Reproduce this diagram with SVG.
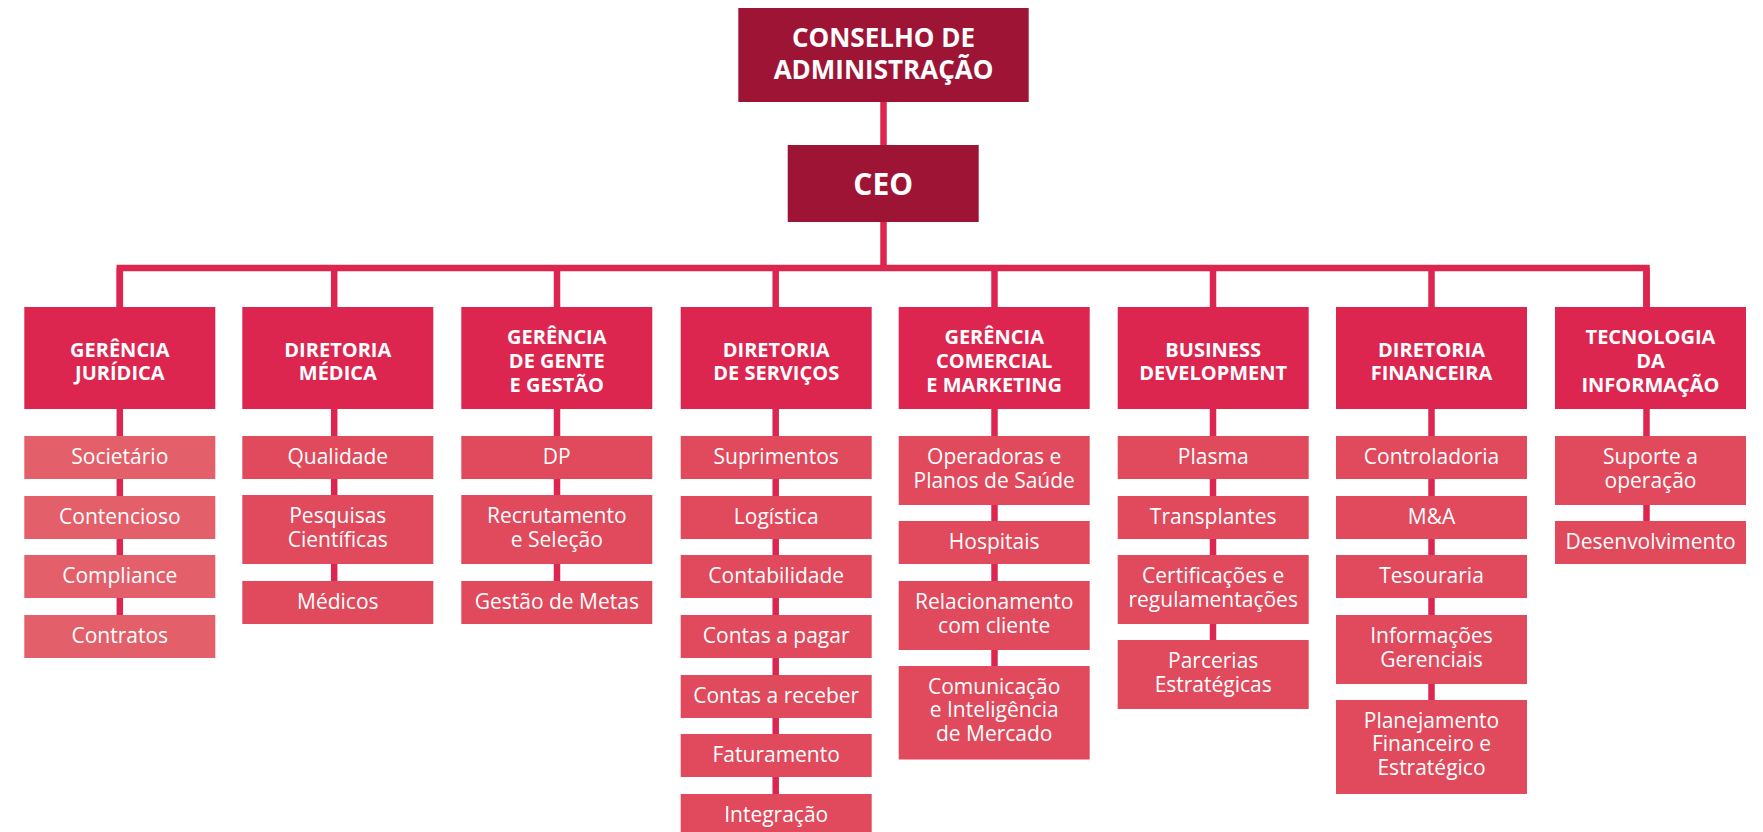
<svg xmlns="http://www.w3.org/2000/svg" width="1763" height="832" viewBox="0 0 1763 832">
<style>
.dk{fill:#9e1434}
.hd{fill:#dc2650}
.sb{fill:#e04a5c}
.sj{fill:#e3606b}
.t{font-family:"Open Sans","Liberation Sans",sans-serif;fill:#fff;text-anchor:middle}
.th{font-size:20px;font-weight:700}
.ts{font-size:21px;font-weight:400}
.tt{font-size:26px;font-weight:700}
.conn{fill:none;stroke:#dc2650;stroke-width:6.5;stroke-linejoin:miter}
</style>
<rect width="1763" height="832" fill="#fff"/>
<g id="connectors">
<path class="conn" d="M883.5,102 V268"/>
<path class="conn" d="M119.8,307 V268 H1646.5 V307"/>
<path class="conn" d="M119.8,268 V615"/>
<path class="conn" d="M334.2,268 V581"/>
<path class="conn" d="M557,268 V581"/>
<path class="conn" d="M775.7,268 V832"/>
<path class="conn" d="M994.5,268 V666"/>
<path class="conn" d="M1213,268 V640"/>
<path class="conn" d="M1431.5,268 V700"/>
<path class="conn" d="M1646.5,268 V521"/>
</g>
<g id="conselho"><rect class="dk" x="738.3" y="8" width="290.4" height="94"/><text class="t tt" x="883.5" y="47">CONSELHO DE</text><text class="t tt" x="883.5" y="78.5">ADMINISTRAÇÃO</text></g>
<g id="ceo"><rect class="dk" x="787.7" y="145" width="191" height="77"/><text class="t tt" x="883.2" y="195" style="font-size:30px">CEO</text></g>

<g id="juridica"><rect class="hd" x="24.3" y="307" width="191" height="102"/><text class="t th" x="119.8" y="356.5">GERÊNCIA</text><text class="t th" x="119.8" y="380">JURÍDICA</text></g>
<g id="societario"><rect class="sj" x="24.3" y="436" width="191" height="43"/><text class="t ts" x="119.8" y="464">Societário</text></g>
<g id="contencioso"><rect class="sj" x="24.3" y="496" width="191" height="43"/><text class="t ts" x="119.8" y="524">Contencioso</text></g>
<g id="compliance"><rect class="sj" x="24.3" y="555" width="191" height="43"/><text class="t ts" x="119.8" y="583">Compliance</text></g>
<g id="contratos"><rect class="sj" x="24.3" y="615" width="191" height="43"/><text class="t ts" x="119.8" y="643">Contratos</text></g>

<g id="medica"><rect class="hd" x="242.3" y="307" width="191" height="102"/><text class="t th" x="337.8" y="356.5">DIRETORIA</text><text class="t th" x="337.8" y="380">MÉDICA</text></g>
<g id="qualidade"><rect class="sb" x="242.3" y="436" width="191" height="43"/><text class="t ts" x="337.8" y="464">Qualidade</text></g>
<g id="pesquisas"><rect class="sb" x="242.3" y="495" width="191" height="69"/><text class="t ts" x="337.8" y="523.3">Pesquisas</text><text class="t ts" x="337.8" y="546.7">Científicas</text></g>
<g id="medicos"><rect class="sb" x="242.3" y="581" width="191" height="43"/><text class="t ts" x="337.8" y="609">Médicos</text></g>

<g id="gente"><rect class="hd" x="461.3" y="307" width="191" height="102"/><text class="t th" x="556.8" y="344">GERÊNCIA</text><text class="t th" x="556.8" y="368">DE GENTE</text><text class="t th" x="556.8" y="392">E GESTÃO</text></g>
<g id="dp"><rect class="sb" x="461.3" y="436" width="191" height="43"/><text class="t ts" x="556.8" y="464">DP</text></g>
<g id="recrutamento"><rect class="sb" x="461.3" y="495" width="191" height="69"/><text class="t ts" x="556.8" y="523.3">Recrutamento</text><text class="t ts" x="556.8" y="546.7">e Seleção</text></g>
<g id="metas"><rect class="sb" x="461.3" y="581" width="191" height="43"/><text class="t ts" x="556.8" y="609">Gestão de Metas</text></g>

<g id="servicos"><rect class="hd" x="680.7" y="307" width="191" height="102"/><text class="t th" x="776.2" y="356.5">DIRETORIA</text><text class="t th" x="776.2" y="380">DE SERVIÇOS</text></g>
<g id="suprimentos"><rect class="sb" x="680.7" y="436" width="191" height="43"/><text class="t ts" x="776.2" y="464">Suprimentos</text></g>
<g id="logistica"><rect class="sb" x="680.7" y="496" width="191" height="43"/><text class="t ts" x="776.2" y="524">Logística</text></g>
<g id="contabilidade"><rect class="sb" x="680.7" y="555" width="191" height="43"/><text class="t ts" x="776.2" y="583">Contabilidade</text></g>
<g id="pagar"><rect class="sb" x="680.7" y="615" width="191" height="43"/><text class="t ts" x="776.2" y="643">Contas a pagar</text></g>
<g id="receber"><rect class="sb" x="680.7" y="675" width="191" height="43"/><text class="t ts" x="776.2" y="703">Contas a receber</text></g>
<g id="faturamento"><rect class="sb" x="680.7" y="734" width="191" height="43"/><text class="t ts" x="776.2" y="762">Faturamento</text></g>
<g id="integracao"><rect class="sb" x="680.7" y="794" width="191" height="43"/><text class="t ts" x="776.2" y="822">Integração</text></g>

<g id="comercial"><rect class="hd" x="898.7" y="307" width="191" height="102"/><text class="t th" x="994.2" y="344">GERÊNCIA</text><text class="t th" x="994.2" y="368">COMERCIAL</text><text class="t th" x="994.2" y="392">E MARKETING</text></g>
<g id="operadoras"><rect class="sb" x="898.7" y="436" width="191" height="69"/><text class="t ts" x="994.2" y="464.3">Operadoras e</text><text class="t ts" x="994.2" y="487.7">Planos de Saúde</text></g>
<g id="hospitais"><rect class="sb" x="898.7" y="521" width="191" height="43"/><text class="t ts" x="994.2" y="549">Hospitais</text></g>
<g id="relacionamento"><rect class="sb" x="898.7" y="581" width="191" height="69"/><text class="t ts" x="994.2" y="609.3">Relacionamento</text><text class="t ts" x="994.2" y="632.7">com cliente</text></g>
<g id="comunicacao"><rect class="sb" x="898.7" y="666" width="191" height="93.5"/><text class="t ts" x="994.2" y="693.5">Comunicação</text><text class="t ts" x="994.2" y="717.3">e Inteligência</text><text class="t ts" x="994.2" y="741">de Mercado</text></g>

<g id="business"><rect class="hd" x="1117.7" y="307" width="191" height="102"/><text class="t th" x="1213.2" y="356.5">BUSINESS</text><text class="t th" x="1213.2" y="380">DEVELOPMENT</text></g>
<g id="plasma"><rect class="sb" x="1117.7" y="436" width="191" height="43"/><text class="t ts" x="1213.2" y="464">Plasma</text></g>
<g id="transplantes"><rect class="sb" x="1117.7" y="496" width="191" height="43"/><text class="t ts" x="1213.2" y="524">Transplantes</text></g>
<g id="certificacoes"><rect class="sb" x="1117.7" y="555" width="191" height="69"/><text class="t ts" x="1213.2" y="583.3">Certificações e</text><text class="t ts" x="1213.2" y="606.7">regulamentações</text></g>
<g id="parcerias"><rect class="sb" x="1117.7" y="640" width="191" height="69"/><text class="t ts" x="1213.2" y="668.3">Parcerias</text><text class="t ts" x="1213.2" y="691.7">Estratégicas</text></g>

<g id="financeira"><rect class="hd" x="1336" y="307" width="191" height="102"/><text class="t th" x="1431.5" y="356.5">DIRETORIA</text><text class="t th" x="1431.5" y="380">FINANCEIRA</text></g>
<g id="controladoria"><rect class="sb" x="1336" y="436" width="191" height="43"/><text class="t ts" x="1431.5" y="464">Controladoria</text></g>
<g id="ma"><rect class="sb" x="1336" y="496" width="191" height="43"/><text class="t ts" x="1431.5" y="524">M&amp;A</text></g>
<g id="tesouraria"><rect class="sb" x="1336" y="555" width="191" height="43"/><text class="t ts" x="1431.5" y="583">Tesouraria</text></g>
<g id="informacoes"><rect class="sb" x="1336" y="615" width="191" height="69"/><text class="t ts" x="1431.5" y="643.3">Informações</text><text class="t ts" x="1431.5" y="666.7">Gerenciais</text></g>
<g id="planejamento"><rect class="sb" x="1336" y="700" width="191" height="94"/><text class="t ts" x="1431.5" y="727.5">Planejamento</text><text class="t ts" x="1431.5" y="751.3">Financeiro e</text><text class="t ts" x="1431.5" y="775">Estratégico</text></g>

<g id="ti"><rect class="hd" x="1555" y="307" width="191" height="102"/><text class="t th" x="1650.5" y="344">TECNOLOGIA</text><text class="t th" x="1650.5" y="368">DA</text><text class="t th" x="1650.5" y="392">INFORMAÇÃO</text></g>
<g id="suporte"><rect class="sb" x="1555" y="436" width="191" height="69"/><text class="t ts" x="1650.5" y="464.3">Suporte a</text><text class="t ts" x="1650.5" y="487.7">operação</text></g>
<g id="desenvolvimento"><rect class="sb" x="1555" y="521" width="191" height="43"/><text class="t ts" x="1650.5" y="549">Desenvolvimento</text></g>
</svg>
